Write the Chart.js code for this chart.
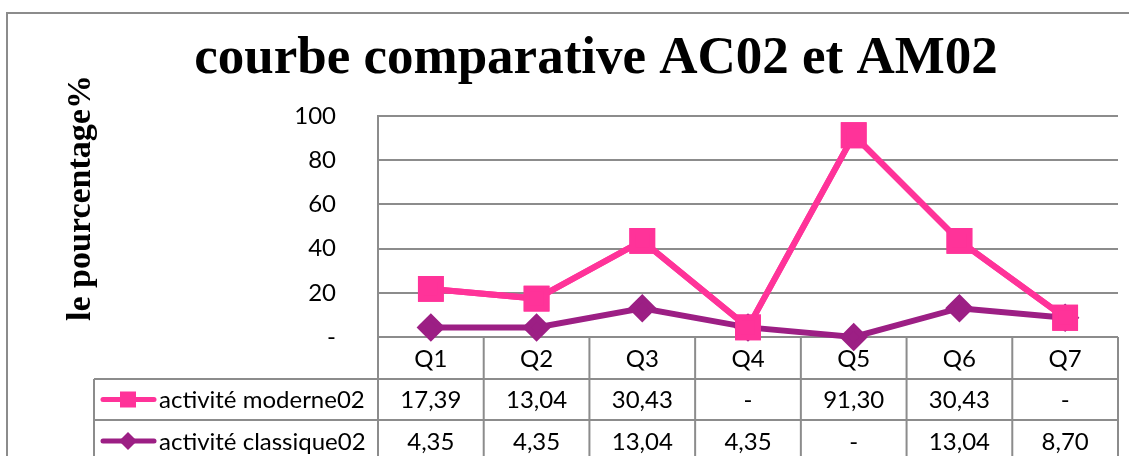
<!DOCTYPE html>
<html>
<head>
<meta charset="utf-8">
<script src="https://cdn.jsdelivr.net/npm/chart.js@4/dist/chart.umd.min.js"></script>
<style>
  html, body { margin: 0; padding: 0; background: #fff; overflow: hidden; }
  #wrap { width: 1129px; height: 456px; position: relative; }
  #chart { display: block; }
</style>
</head>
<body>
<div id="wrap"><canvas id="chart"></canvas></div>
<script>
// données (courbes empilées, comme dans Excel)
const questions = ['Q1', 'Q2', 'Q3', 'Q4', 'Q5', 'Q6', 'Q7'];
const moderne = [17.39, 13.04, 30.43, 0, 91.30, 30.43, 0];
const classique = [4.35, 4.35, 13.04, 4.35, 0, 13.04, 8.70];
const yTicks = [0, 20, 40, 60, 80, 100];
const serieNames = ['activité moderne02', 'activité classique02'];
const chartTitle = 'courbe comparative AC02 et AM02';
const yTitle = 'le pourcentage%';

const pink = '#FF3399';
const purple = '#9C1F84';
const gridGray = '#8c8c8c';
const numFont = 'Lato, "Open Sans", sans-serif';
const serif = '"Liberation Serif", "Times New Roman", serif';

const fmt = v => v === 0 ? '-' : v.toFixed(2).replace('.', ',');

// la courbe rose passe au-dessus de la violette (base de l'empilement)
const pinkOnTop = {
  id: 'pinkOnTop',
  afterDatasetsDraw(chart) {
    chart.getDatasetMeta(1).controller.draw();
  }
};

// Tableau de données sous le graphique + titres + cadre
const tablePlugin = {
  id: 'tablePlugin',
  beforeDatasetsDraw(chart) {
    const ctx = chart.ctx;
    const area = chart.chartArea;
    const n = questions.length;
    const colW = (area.right - area.left) / n;
    const rows = [area.bottom, area.bottom + 42, area.bottom + 83, area.bottom + 125];
    const legendLeft = 94;

    ctx.save();
    // cadre extérieur
    ctx.strokeStyle = gridGray;
    ctx.lineWidth = 2;
    ctx.beginPath();
    ctx.moveTo(7, 470); ctx.lineTo(7, 13); ctx.lineTo(1135, 13);
    ctx.stroke();

    // lignes du tableau
    ctx.beginPath();
    ctx.moveTo(area.left, rows[0]); ctx.lineTo(area.right, rows[0]);
    ctx.moveTo(legendLeft, rows[1]); ctx.lineTo(area.right, rows[1]);
    ctx.moveTo(legendLeft, rows[2]); ctx.lineTo(area.right, rows[2]);
    ctx.moveTo(legendLeft, rows[1]); ctx.lineTo(legendLeft, rows[3]);
    for (let i = 0; i <= n; i++) {
      const x = area.left + i * colW;
      ctx.moveTo(x, rows[0]); ctx.lineTo(x, rows[3]);
    }
    ctx.stroke();

    // textes
    ctx.fillStyle = '#000';
    ctx.font = '24px ' + numFont;
    ctx.textAlign = 'center';
    ctx.textBaseline = 'middle';
    questions.forEach((q, i) => {
      const cx = area.left + (i + 0.5) * colW;
      ctx.fillText(q, cx, (rows[0] + rows[1]) / 2 + 1);
      ctx.fillText(fmt(moderne[i]), cx, (rows[1] + rows[2]) / 2 + 1);
      ctx.fillText(fmt(classique[i]), cx, (rows[2] + rows[3]) / 2 + 1);
    });

    // légendes
    const keys = [
      { y: (rows[1] + rows[2]) / 2, color: pink, shape: 'square' },
      { y: (rows[2] + rows[3]) / 2, color: purple, shape: 'diamond' }
    ];
    keys.forEach((k, i) => {
      ctx.strokeStyle = k.color;
      ctx.fillStyle = k.color;
      ctx.lineWidth = 5;
      ctx.lineCap = 'round';
      ctx.beginPath();
      ctx.moveTo(103, k.y); ctx.lineTo(154, k.y);
      ctx.stroke();
      if (k.shape === 'square') {
        ctx.fillRect(120, k.y - 8, 16, 16);
      } else {
        ctx.beginPath();
        ctx.moveTo(128, k.y - 9); ctx.lineTo(137, k.y); ctx.lineTo(128, k.y + 9); ctx.lineTo(119, k.y);
        ctx.closePath(); ctx.fill();
      }
      ctx.fillStyle = '#000';
      ctx.textAlign = 'left';
      ctx.fillText(serieNames[i], 159, k.y + 1);
    });

    // titre du graphique
    ctx.fillStyle = '#000';
    ctx.textAlign = 'center';
    ctx.textBaseline = 'alphabetic';
    ctx.font = 'bold 53px ' + serif;
    ctx.fillText(chartTitle, 596, 73);

    // titre de l'axe vertical
    ctx.translate(90, 198);
    ctx.rotate(-Math.PI / 2);
    ctx.font = 'bold 34px ' + serif;
    ctx.fillText(yTitle, 0, 0);
    ctx.restore();
  }
};

new Chart(document.getElementById('chart').getContext('2d'), {
  type: 'line',
  data: {
    labels: questions,
    datasets: [
      {
        label: serieNames[1],
        data: classique,
        borderColor: purple,
        backgroundColor: purple,
        borderWidth: 6,
        pointStyle: 'rectRot',
        pointRadius: 10,
        pointHoverRadius: 10,
        clip: false
      },
      {
        label: serieNames[0],
        data: moderne,
        borderColor: pink,
        backgroundColor: pink,
        borderWidth: 6,
        pointStyle: 'rect',
        pointRadius: 14,
        pointHoverRadius: 14,
        clip: false
      }
    ]
  },
  options: {
    responsive: true,
    maintainAspectRatio: false,
    animation: false,
    layout: { autoPadding: false, padding: { left: 0, right: 11, top: 116, bottom: 0 } },
    scales: {
      x: {
        offset: true,
        grid: { display: false },
        border: { display: false },
        ticks: { display: false },
        afterFit: s => { s.height = 119; }
      },
      y: {
        stacked: true,
        min: 0,
        max: 100,
        afterBuildTicks: s => { s.ticks = yTicks.map(v => ({ value: v })); },
        ticks: {
          color: '#000',
          padding: 42,
          font: { family: numFont, size: 24 },
          callback: v => v === 0 ? '-' : v
        },
        grid: { color: gridGray, lineWidth: 2, drawTicks: false },
        border: { color: gridGray, width: 2 },
        afterFit: s => { s.width = 378; }
      }
    },
    plugins: {
      legend: { display: false },
      tooltip: { enabled: false },
      title: { display: false }
    }
  },
  plugins: [tablePlugin, pinkOnTop]
});
</script>
</body>
</html>
